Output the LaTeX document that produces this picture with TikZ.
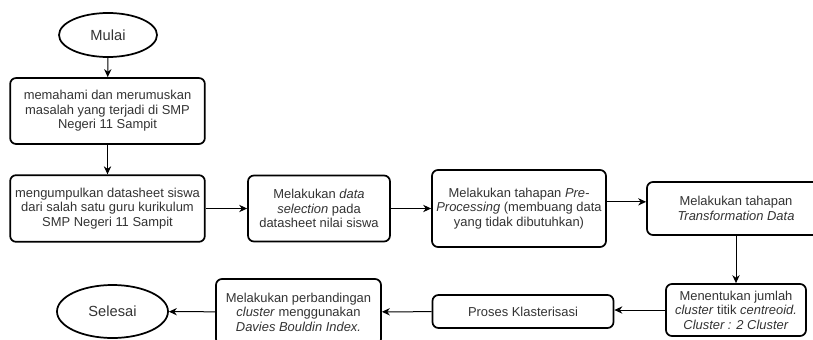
\documentclass[tikz,border=0pt]{standalone}
\usepackage{fontspec}
\setmainfont{Liberation Sans}
\usepackage{tikz}
\usetikzlibrary{shapes,arrows.meta,positioning,calc,shapes.geometric}
\tikzset{
  fcStep/.style={draw=black, line width=1.3pt, fill=white, rounded corners=4.5pt,
    align=center, text=black!80, inner sep=2pt},
  fcTerm/.style={draw=black, line width=1.3pt, fill=white, ellipse,
    align=center, text=black!80, inner sep=0pt},
  %% Connector arrows
  fcflow/.style={-{Stealth[length=6pt, width=5.5pt]}, line width=0.75pt},
}

\begin{document}
\begin{tikzpicture}[x=0.75pt, y=-0.75pt, font=\fontsize{9.7}{10.9}\selectfont]
\clip (0,0) rectangle (813,339);
\useasboundingbox (0,0) rectangle (813,339);

%% Top column
\node[fcTerm, minimum width=73.5pt, minimum height=33pt] (tStart) at (108,35) {\fontsize{11}{13}\selectfont Mulai};
\node[fcStep, minimum width=146pt, minimum height=49.5pt] (sProblem) at (107.5,111)
  {memahami dan merumuskan\\masalah yang terjadi di SMP\\Negeri 11 Sampit};

%% Middle row
\node[fcStep, minimum width=146pt, minimum height=50pt] (sCollect) at (107.5,208.5)
  {mengumpulkan datasheet siswa\\dari salah satu guru kurikulum\\SMP Negeri 11 Sampit};
\node[fcStep, minimum width=106.5pt, minimum height=49.5pt] (sSelect) at (319,208.5)
  {Melakukan \textit{data}\\\textit{selection} pada\\datasheet nilai siswa};
\node[fcStep, minimum width=130.5pt, minimum height=57.75pt] (sPrep) at (519,208.5)
  {Melakukan tahapan \textit{Pre-}\\\textit{Processing} (membuang data\\yang tidak dibutuhkan)};
\node[fcStep, minimum width=133.5pt, minimum height=39.75pt] (sTrans) at (736,208.5)
  {Melakukan tahapan\\\textit{Transformation Data}};

%% Bottom row
\node[fcStep, minimum width=105pt, minimum height=39pt] (sCentroid) at (736,310)
  {Menentukan jumlah\\\textit{cluster} titik \textit{centreoid.}\\\textit{Cluster : 2 Cluster}};
\node[fcStep, minimum width=135.75pt, minimum height=24.75pt] (sCluster) at (523,311.5)
  {Proses Klasterisasi};
\node[fcStep, minimum width=123.75pt, minimum height=49.5pt] (sCompare) at (298.5,312)
  {Melakukan perbandingan\\\textit{cluster} menggunakan\\\textit{Davies Bouldin Index.}};
\node[fcTerm, minimum width=83.25pt, minimum height=39.75pt] (tEnd) at (112.5,311.5) {\fontsize{11}{13}\selectfont Selesai};

%% Flow
\draw[fcflow] (tStart) -- (sProblem);
\draw[fcflow] (sProblem) -- (sCollect);
\draw[fcflow] (sCollect) -- (sSelect);
\draw[fcflow] (sSelect) -- (sPrep);
\draw[fcflow] ([yshift=5pt]sPrep.east) -- ([yshift=5pt]sPrep.east -| sTrans.west);
\draw[fcflow] (sTrans) -- (sCentroid);
\draw[fcflow] (sCentroid.west) -- (sCentroid.west -| sCluster.east);
\draw[fcflow] (sCluster) -- (sCompare);
\draw[fcflow] (sCompare) -- (tEnd);

\end{tikzpicture}
\end{document}
